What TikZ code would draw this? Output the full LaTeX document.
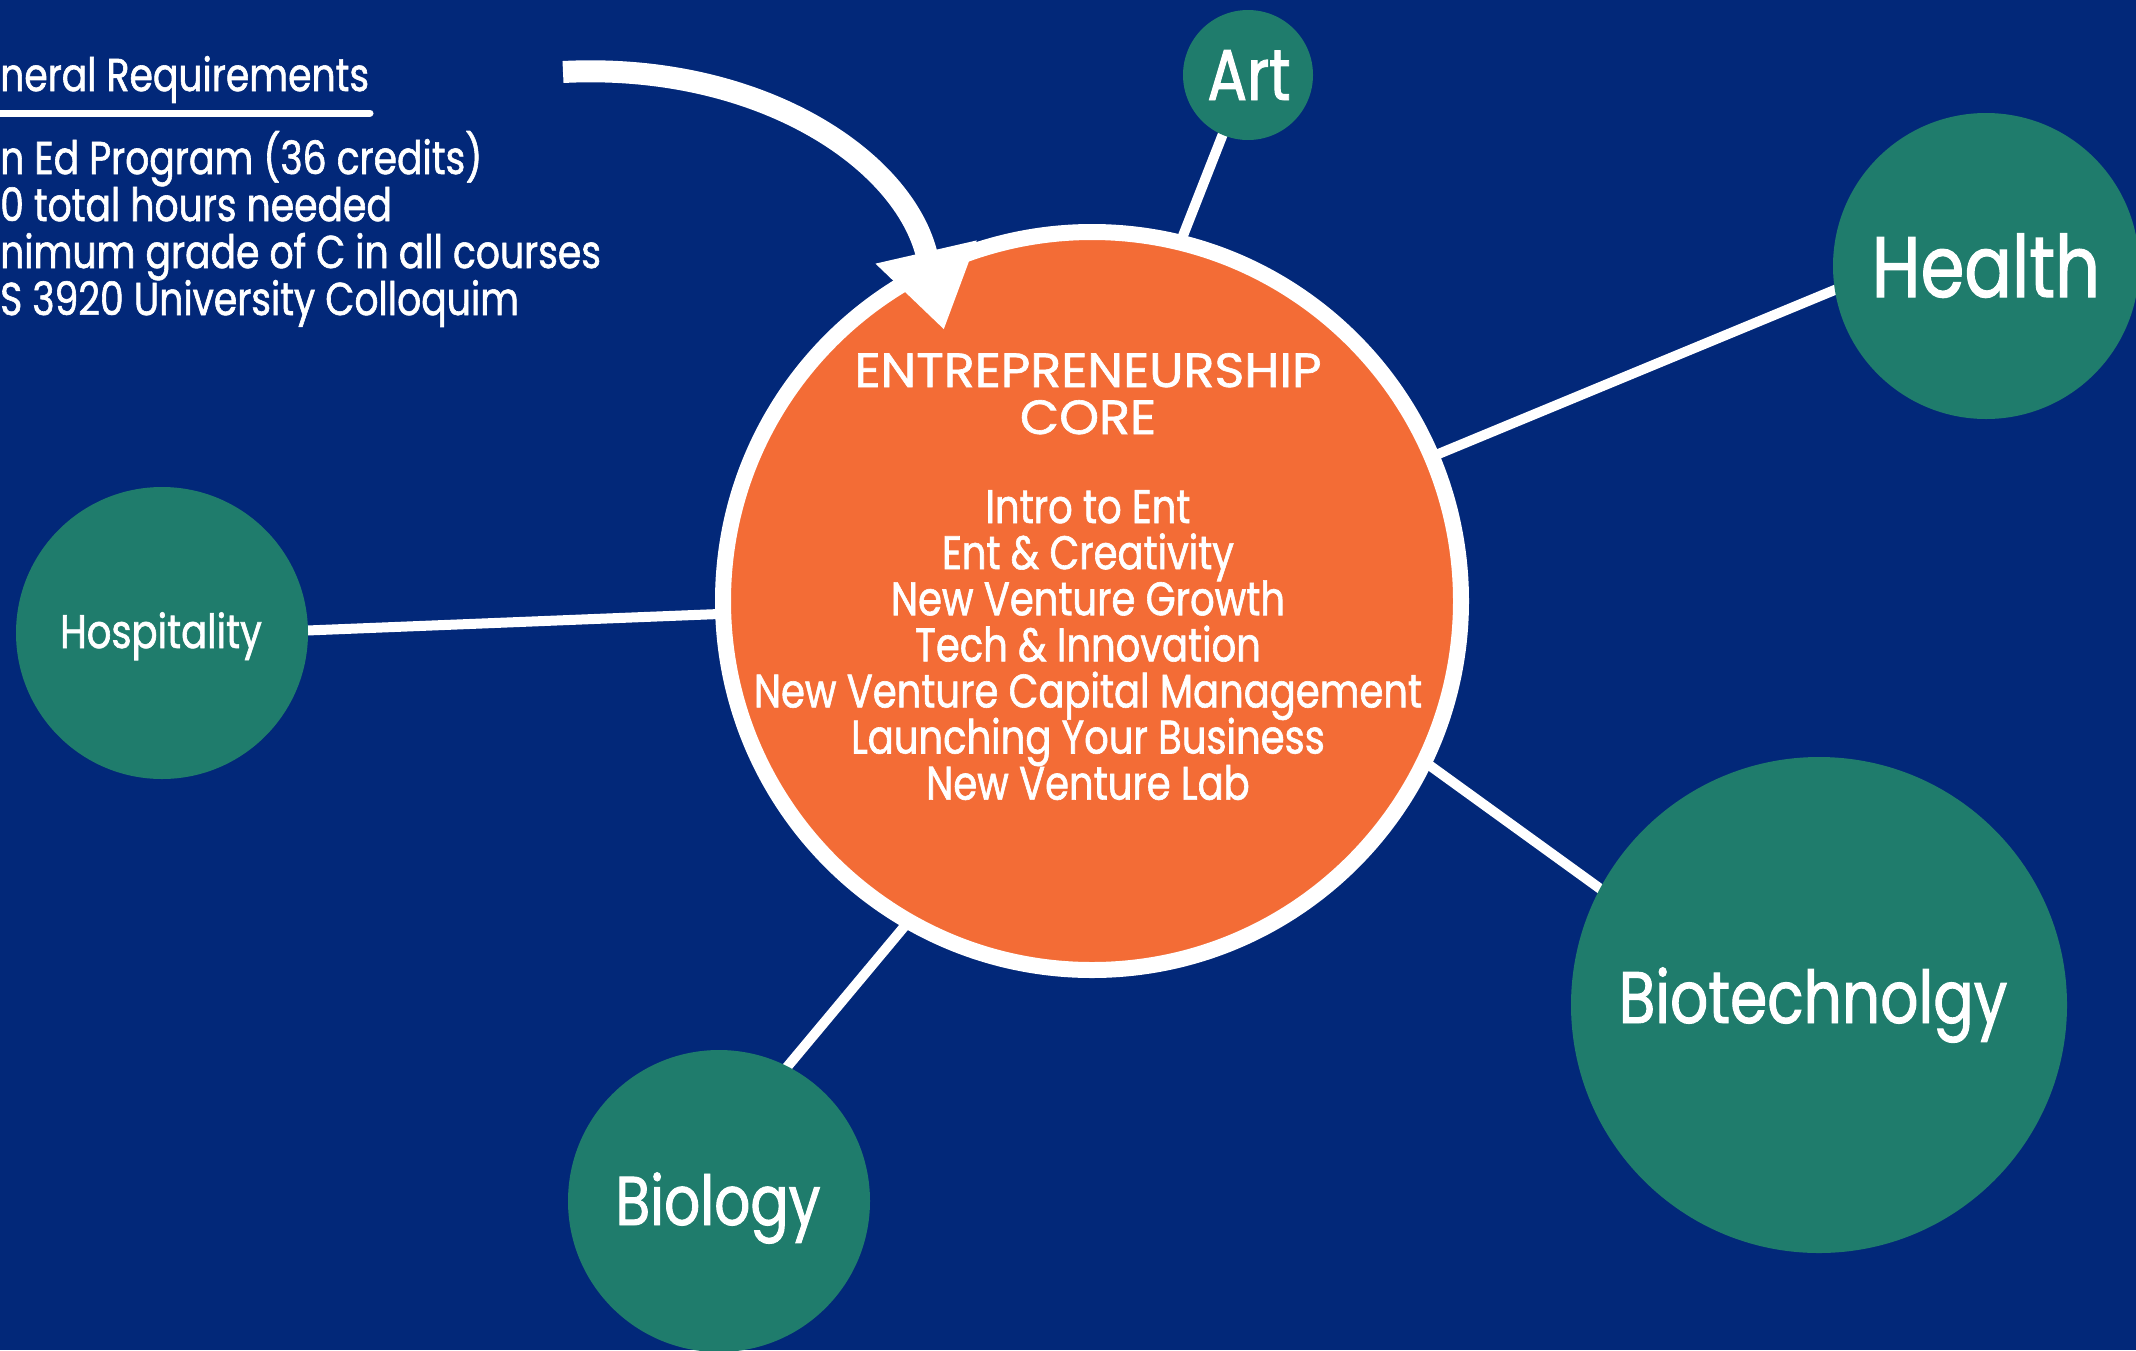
\documentclass[tikz,border=0pt]{standalone}
\usepackage{fontspec}
\usetikzlibrary{arrows.meta}
\newfontfamily\gfont[FakeStretch=0.82,FakeBold=1.3]{Poppins}
\newfontfamily\wfont[FakeStretch=1.06,FakeBold=1.3]{Poppins}
\definecolor{navy}{HTML}{022879}
\definecolor{coreorange}{HTML}{F36C36}
\definecolor{satgreen}{HTML}{1F7C6C}
\pgfdeclarelayer{back}
\pgfdeclarelayer{bg}
\pgfsetlayers{back,bg,main}
\newcommand{\fs}[1]{\fontsize{#1}{#1}\selectfont}
\tikzset{
  sat/.style={circle, fill=satgreen, inner sep=0pt, minimum size=#1},
  lbl/.style={text=white, anchor=base, inner sep=0pt, font=\gfont},
  leftlbl/.style={text=white, anchor=base west, inner sep=0pt, font=\gfont\fs{46}},
  conn/.style={draw=white, line width=10pt, shorten <=-6pt, shorten >=-6pt},
}
\begin{document}
\begin{tikzpicture}[x=1pt,y=-1pt]
\useasboundingbox (0,0) rectangle (2136,1350);
\begin{pgfonlayer}{back}
\fill[navy] (0,0) rectangle (2136,1350);
\end{pgfonlayer}
% core
\node[circle, fill=coreorange, draw=white, line width=16pt, minimum size=738pt, inner sep=0pt] (core) at (1092,601) {};
% satellites
\node[sat=130pt] (art) at (1248,75) {};
\node[sat=306pt] (health) at (1986,266) {};
\node[sat=292pt] (hosp) at (162,633) {};
\node[sat=496pt] (biotech) at (1819,1005) {};
\node[sat=302pt] (bio) at (719,1201) {};
% labels
\node[lbl, font=\gfont\fs{72}] (arttxt) at (1249,100) {Art};
\node[lbl, font=\gfont\fs{86}] (healthtxt) at (1986,297) {Health};
\node[lbl, font=\gfont\fs{47}] (hosptxt) at (161,648) {Hospitality};
\node[lbl, font=\gfont\fs{73}] (biotechtxt) at (1813,1023) {Biotechnolgy};
\node[lbl, font=\gfont\fs{69}] (biotxt) at (718,1225) {Biology};
% core text
\node[lbl, font=\wfont\fs{48}] (c1) at (1088,387) {ENTREPRENEURSHIP};
\node[lbl, font=\wfont\fs{48}] (c2) at (1088,434) {CORE};
\foreach \t [count=\i] in {Intro to Ent, Ent \& Creativity, New Venture Growth, Tech \& Innovation, New Venture Capital Management, Launching Your Business, New Venture Lab}
  \node[lbl, font=\gfont\fs{47}] (k\i) at (1088,{523+46.1*(\i-1)}) {\t};
% general requirements
\node[leftlbl] (g1) at (0,91) {neral Requirements};
\coordinate (u1) at (0,113);
\coordinate (u2) at (370,113);
\draw[white, line width=7pt, line cap=round] (u1) -- (u2);
\node[leftlbl] (g2) at (0,174) {n Ed Program (36 credits)};
\node[leftlbl] (g3) at (0,221) {0 total hours needed};
\node[leftlbl] (g4) at (0,268) {nimum grade of C in all courses};
\node[leftlbl] (g5) at (0,315) {S 3920 University Colloquim};
% connectors
\begin{pgfonlayer}{bg}
\draw[conn] (core.76.4) -- (art.247.7);
\draw[conn] (core.23.2) -- (health.189);
\draw[conn] (core.182.3) -- (hosp.1.6);
\draw[conn] (core.-26.7) -- (biotech.152.2);
\draw[conn] (core.240) -- (bio.63.1);
\end{pgfonlayer}
% arrow
\coordinate (astart) at (563,72);
\coordinate (aend) at (944,330);
\draw[white, line width=22pt, -{Triangle[length=80pt,width=98pt]}] (astart) .. controls (760,62) and (905,160) .. (aend);
\end{tikzpicture}
\end{document}
